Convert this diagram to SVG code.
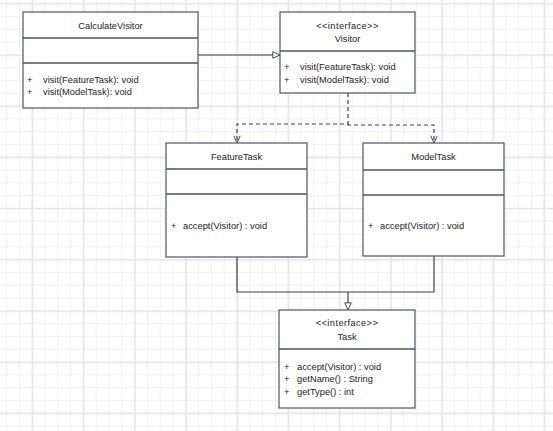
<svg xmlns="http://www.w3.org/2000/svg" width="553" height="431" viewBox="0 0 553 431">
<defs>
<pattern id="minor" patternUnits="userSpaceOnUse" x="6.1" y="3.1" width="12.8" height="12.8">
<path d="M0.5 0V12.8M0 0.5H12.8" stroke="#f1f1f1" stroke-width="1" fill="none"/>
</pattern>
<pattern id="major" patternUnits="userSpaceOnUse" x="31.7" y="3.1" width="51.2" height="51.2">
<path d="M0.75 0V51.2M0 0.75H51.2" stroke="#e4e4e4" stroke-width="1.5" fill="none"/>
</pattern>
<marker id="tri" viewBox="0 0 10 10" refX="10" refY="5" markerWidth="8" markerHeight="8" markerUnits="userSpaceOnUse" orient="auto">
<path d="M1 1L10 5L1 9Z" fill="#fff" stroke="#404040" stroke-width="1.2"/>
</marker>
<marker id="open" viewBox="0 0 10 10" refX="10" refY="5" markerWidth="8" markerHeight="8" markerUnits="userSpaceOnUse" orient="auto">
<path d="M1 1L10 5L1 9" fill="none" stroke="#404040" stroke-width="1.2"/>
</marker>
</defs>
<style>
.box{fill:#fff;stroke:#5c5f7c;stroke-width:1.3}
.div{stroke:#4d5070;stroke-width:1.3}
text{font-family:"Liberation Sans",Arial,sans-serif;font-size:9.3px;fill:#222}
.c{text-anchor:middle}
.con{fill:none;stroke:#404040;stroke-width:1.2}
.dash{stroke-dasharray:4 3}
</style>
<rect width="553" height="431" fill="#fff"/>
<rect width="553" height="431" fill="url(#minor)"/>
<rect width="553" height="431" fill="url(#major)"/>

<g id="connectors">
<path class="con" d="M198 55H280" marker-end="url(#tri)"/>
<path class="con dash" d="M348 93V124H237V143" marker-end="url(#open)"/>
<path class="con dash" d="M348 124V125H434V143" marker-end="url(#open)"/>
<path class="con" d="M237 257V292H434V256"/>
<path class="con" d="M348 292V310" marker-end="url(#tri)"/>
</g>

<g id="CalculateVisitor">
<rect class="box" x="23" y="12" width="175" height="96"/>
<path class="div" d="M23 38H198M23 63H198"/>
<text class="c" x="110.5" y="29.3">CalculateVisitor</text>
<text x="27" y="83.3">+</text>
<text x="43" y="83.3">visit(FeatureTask): void</text>
<text x="27" y="95.3">+</text>
<text x="43" y="95.3">visit(ModelTask): void</text>
</g>

<g id="Visitor">
<rect class="box" x="280" y="12" width="135" height="81"/>
<path class="div" d="M280 51H415"/>
<text class="c" x="347.5" y="29.3" letter-spacing="0.4">&lt;&lt;interface&gt;&gt;</text>
<text class="c" x="347.5" y="42.3">Visitor</text>
<text x="284" y="70.3">+</text>
<text x="300" y="70.3">visit(FeatureTask): void</text>
<text x="284" y="83.3">+</text>
<text x="300" y="83.3">visit(ModelTask): void</text>
</g>

<g id="FeatureTask">
<rect class="box" x="166" y="143" width="141" height="114"/>
<path class="div" d="M166 169H307M166 194H307"/>
<text class="c" x="236.5" y="160.3">FeatureTask</text>
<text x="171" y="229.3">+</text>
<text x="183" y="229.3">accept(Visitor) : void</text>
</g>

<g id="ModelTask">
<rect class="box" x="363" y="143" width="141" height="113"/>
<path class="div" d="M363 170H504M363 195H504"/>
<text class="c" x="433.5" y="160.3">ModelTask</text>
<text x="368" y="229.3">+</text>
<text x="380" y="229.3">accept(Visitor) : void</text>
</g>

<g id="Task">
<rect class="box" x="279" y="310" width="136" height="98"/>
<path class="div" d="M279 349H415"/>
<text class="c" x="347" y="326.3" letter-spacing="0.4">&lt;&lt;interface&gt;&gt;</text>
<text class="c" x="347" y="340.3">Task</text>
<text x="284" y="370.3">+</text>
<text x="297" y="370.3">accept(Visitor) : void</text>
<text x="284" y="382.3">+</text>
<text x="297" y="382.3">getName() : String</text>
<text x="284" y="395.3">+</text>
<text x="297" y="395.3">getType() : int</text>
</g>
</svg>
